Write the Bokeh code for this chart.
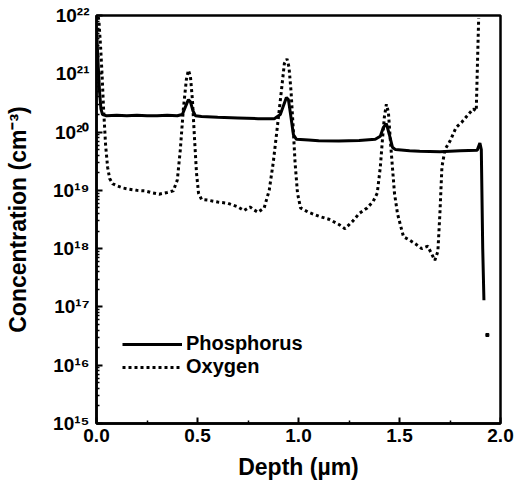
from bokeh.plotting import figure
from bokeh.models import FixedTicker, Legend, LegendItem
from bokeh.embed import file_html
from bokeh.resources import INLINE

# ---- data ----
p_depth = [0.0, 0.008, 0.015, 0.022, 0.03, 0.05, 0.1, 0.15, 0.2, 0.25, 0.3, 0.35, 0.4, 0.425,
           0.44, 0.455, 0.465, 0.478, 0.49, 0.52, 0.6, 0.7, 0.8, 0.88, 0.91, 0.925, 0.94, 0.95,
           0.96, 0.975, 0.99, 1.05, 1.1, 1.2, 1.3, 1.38, 1.405, 1.42, 1.435, 1.45, 1.465, 1.48,
           1.55, 1.6, 1.7, 1.8, 1.885, 1.898, 1.905, 1.912, 1.918]
p_conc = [6e21, 1.5e21, 5e20, 2.5e20, 2.0e20, 1.9e20, 1.95e20, 1.9e20, 1.95e20, 1.9e20, 1.9e20,
          1.95e20, 1.9e20, 2.0e20, 2.7e20, 3.6e20, 3.3e20, 2.3e20, 1.9e20, 1.85e20, 1.8e20,
          1.75e20, 1.7e20, 1.7e20, 2.0e20, 2.8e20, 3.9e20, 3.6e20, 2.1e20, 9e19, 7.5e19, 7.3e19,
          7.1e19, 7.0e19, 7.2e19, 7.5e19, 8.5e19, 1.2e20, 1.4e20, 9e19, 5.5e19, 5.0e19, 4.8e19,
          4.7e19, 4.6e19, 4.8e19, 4.9e19, 6.5e19, 5.0e19, 1e18, 1.3e17]
p_dot_depth = [1.935]
p_dot_conc = [3.3e16]

o_depth = [0.004, 0.012, 0.02, 0.028, 0.035, 0.045, 0.055, 0.065, 0.08, 0.1, 0.13, 0.16, 0.2,
           0.24, 0.28, 0.31, 0.35, 0.38, 0.4, 0.415, 0.43, 0.445, 0.455, 0.465, 0.475, 0.485,
           0.495, 0.505, 0.52, 0.55, 0.6, 0.65, 0.7, 0.73, 0.76, 0.78, 0.8, 0.83, 0.855, 0.875,
           0.895, 0.915, 0.93, 0.943, 0.953, 0.963, 0.973, 0.983, 0.995, 1.01, 1.05, 1.1, 1.15,
           1.2, 1.23, 1.27, 1.3, 1.34, 1.37, 1.39, 1.405, 1.415, 1.425, 1.435, 1.445, 1.455,
           1.465, 1.475, 1.49, 1.505, 1.52, 1.55, 1.58, 1.61, 1.64, 1.66, 1.675, 1.69, 1.7,
           1.71, 1.725, 1.75, 1.78, 1.81, 1.84, 1.865, 1.88, 1.886, 1.892]
o_conc = [1.2e22, 8e21, 3e21, 9e20, 2.5e20, 6e19, 2.5e19, 1.6e19, 1.3e19, 1.2e19, 1.1e19, 1.05e19,
          1.0e19, 9.8e18, 9.0e18, 8.6e18, 9.2e18, 9.8e18, 1.5e19, 5e19, 2.5e20, 8e20, 1.15e21,
          9e20, 3.5e20, 8e19, 2e19, 9e18, 7e18, 6.8e18, 6.3e18, 6.0e18, 5.2e18, 4.5e18, 5.2e18,
          4.6e18, 4.2e18, 5e18, 1e19, 3e19, 1.2e20, 5e20, 1.5e21, 1.8e21, 1.3e21, 5e20, 1.3e20,
          3e19, 9e18, 5e18, 4.2e18, 3.6e18, 3.2e18, 2.6e18, 2.2e18, 3e18, 4e18, 5e18, 6.5e18,
          9e18, 2.5e19, 7e19, 1.8e20, 3.0e20, 2.2e20, 7e19, 2.5e19, 9e18, 4e18, 2.5e18, 1.6e18,
          1.4e18, 1.2e18, 1.0e18, 1.1e18, 8e17, 6.3e17, 9e17, 4e18, 2.5e19, 5e19, 7e19, 1.2e20,
          1.5e20, 2.0e20, 2.5e20, 2.3e20, 1.5e21, 9e21]

x_ticks = [0.0, 0.5, 1.0, 1.5, 2.0]
x_tick_labels = ["0.0", "0.5", "1.0", "1.5", "2.0"]
x_minor = [0.25, 0.75, 1.25, 1.75]
y_exps = [15, 16, 17, 18, 19, 20, 21, 22]
y_tick_labels = ["10¹⁵", "10¹⁶", "10¹⁷", "10¹⁸", "10¹⁹", "10²⁰", "10²¹", "10²²"]
series_names = ["Phosphorus", "Oxygen"]

FONT = "Liberation Sans"

y_ticks = [10.0 ** e for e in y_exps]
y_minor = [m * 10.0 ** e for e in y_exps[:-1] for m in range(2, 10)]

p = figure(width=514, height=487, x_range=(0, 2), y_range=(1e15, 1e22),
           y_axis_type="log", output_backend="svg", toolbar_location=None,
           min_border_left=96, min_border_top=15, min_border_right=14, min_border_bottom=64)
p.background_fill_color = "white"
p.border_fill_color = "white"
p.grid.visible = False
p.outline_line_color = "black"
p.outline_line_width = 2.5

r_p = p.line(p_depth, p_conc, line_color="black", line_width=3)
r_o = p.line(o_depth, o_conc, line_color="black", line_width=3, line_dash="3 3")
p.scatter(p_dot_depth, p_dot_conc, marker="square", size=3, color="black")

p.xaxis.ticker = FixedTicker(ticks=x_ticks, minor_ticks=x_minor)
p.xaxis.major_label_overrides = dict(zip(x_ticks, x_tick_labels))
p.yaxis.ticker = FixedTicker(ticks=y_ticks, minor_ticks=y_minor)
p.yaxis.major_label_overrides = dict(zip(y_ticks, y_tick_labels))

for ax in (p.xaxis[0], p.yaxis[0]):
    ax.axis_line_width = 2.5
    ax.axis_line_color = "black"
    ax.major_tick_in = 6
    ax.major_tick_out = 0
    ax.minor_tick_in = 3
    ax.minor_tick_out = 0
    ax.major_tick_line_width = 2
    ax.minor_tick_line_width = 1.5
    ax.major_label_text_font = FONT
    ax.major_label_text_font_style = "bold"
    ax.major_label_text_font_size = "19px"
    ax.major_label_text_color = "black"
    ax.axis_label_text_font = FONT
    ax.axis_label_text_font_style = "bold"
    ax.axis_label_text_font_size = "23px"
    ax.axis_label_text_color = "black"

p.xaxis.axis_label = "Depth (µm)"
p.yaxis.axis_label = "Concentration (cm⁻³)"
p.xaxis.major_label_standoff = 5
p.xaxis.axis_label_standoff = 9
p.yaxis.major_label_standoff = 7
p.yaxis.axis_label_standoff = 19

legend = Legend(items=[LegendItem(label=series_names[0], renderers=[r_p]),
                       LegendItem(label=series_names[1], renderers=[r_o])],
                location=(26, 45), orientation="vertical")
legend.border_line_color = None
legend.background_fill_alpha = 0
legend.padding = 0
legend.margin = 0
legend.spacing = -5
legend.glyph_width = 60
legend.glyph_height = 20
legend.label_height = 20
legend.label_standoff = 4
legend.label_text_font = FONT
legend.label_text_font_style = "bold"
legend.label_text_font_size = "20px"
legend.label_text_color = "black"
p.add_layout(legend)

open("out.html", "w").write(file_html(p, INLINE))
